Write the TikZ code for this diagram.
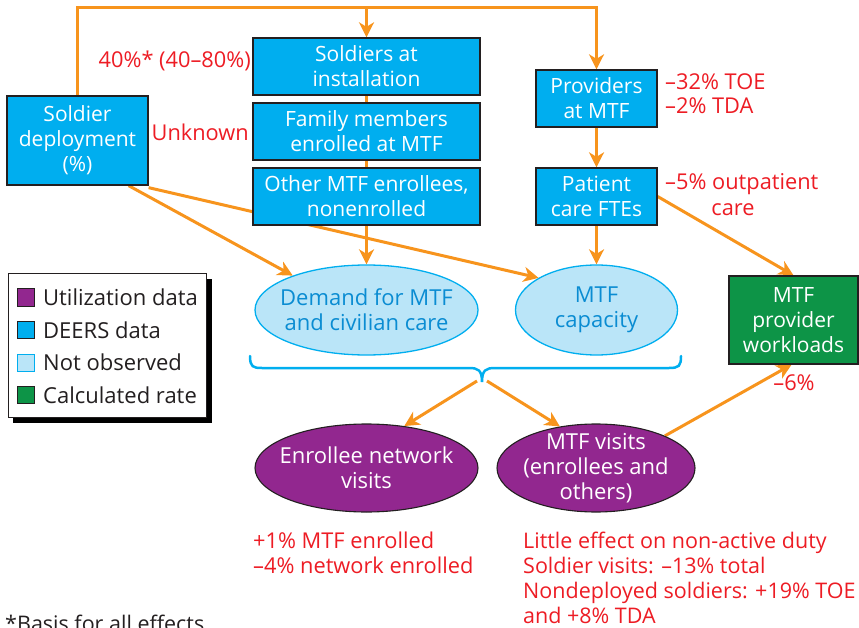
\documentclass[tikz,border=0pt]{standalone}
\usepackage{fontspec}
\setmainfont{Open Sans}
\usetikzlibrary{arrows.meta,shapes.geometric,calc}
\definecolor{dblue}{HTML}{00AEEF}
\definecolor{lblue}{HTML}{BAE5F8}
\definecolor{tblue}{HTML}{0A8CD2}
\definecolor{purp}{HTML}{92278F}
\definecolor{grn}{HTML}{0D9447}
\definecolor{orng}{HTML}{F7941D}
\definecolor{redt}{HTML}{ED1C24}
\definecolor{dark}{HTML}{231F20}
\pgfdeclarelayer{bg}
\pgfsetlayers{bg,main}
\tikzset{
  box/.style={draw=dark, line width=1.3pt, fill=dblue, text=white, align=center, inner sep=0pt},
  gbox/.style={box, fill=grn},
  lell/.style={ellipse, draw=dblue, line width=1.3pt, fill=lblue, inner sep=0pt},
  pell/.style={ellipse, draw=dark, line width=1.1pt, fill=purp, inner sep=0pt},
  etext/.style={align=center, inner sep=0pt, font=\fontsize{22}{25}\selectfont},
  conn/.style={draw=orng, line width=3pt},
  arr/.style={conn, -{Stealth[length=15pt,width=15pt,inset=4.5pt]}},
  redlab/.style={text=redt, inner sep=0pt, font=\fontsize{21.8}{25}\selectfont},
  legsq/.style={draw=dark, line width=1pt, minimum size=17pt, inner sep=0pt},
  legtx/.style={text=dark, anchor=west, inner sep=0pt, font=\fontsize{22}{25}\selectfont}
}
\begin{document}
\begin{tikzpicture}[x=1pt,y=-1pt,font=\fontsize{21}{25}\selectfont]
\useasboundingbox (0,0) rectangle (859,628);

% boxes
\node[box, minimum width=141pt, minimum height=89pt] (dep) at (77.5,140.5) {Soldier\\deployment\\(\%)};
\node[box, minimum width=227pt, minimum height=57pt] (sold) at (366.5,66.5) {Soldiers at\\installation};
\node[box, minimum width=227pt, minimum height=57pt] (fam) at (366.5,131.5) {Family members\\enrolled at MTF};
\node[box, minimum width=227pt, minimum height=57pt] (oth) at (366.5,196.5) {Other MTF enrollees,\\nonenrolled};
\node[box, minimum width=121pt, minimum height=57pt] (prov) at (596.5,98.5) {Providers\\at MTF};
\node[box, minimum width=121pt, minimum height=57pt] (pat) at (596.5,196.5) {Patient\\care FTEs};
\node[gbox, minimum width=129pt, minimum height=88pt] (work) at (793.5,320) {MTF\\provider\\workloads};

% ellipses
\node[lell, minimum width=223pt, minimum height=90pt] (dem) at (366.5,310) {};
\node[etext, text=tblue] (demt) at (dem.center) {Demand for MTF\\and civilian care};
\node[lell, minimum width=162pt, minimum height=90pt] (cap) at (596.5,310) {};
\node[etext, text=tblue] (capt) at (cap.center) {MTF\\capacity};
\node[pell, minimum width=223pt, minimum height=88pt] (enr) at (366.5,468) {};
\node[etext, text=white] (enrt) at (enr.center) {Enrollee network\\visits};
\node[pell, minimum width=198pt, minimum height=88pt] (vis) at (596,468) {};
\node[etext, text=white] (vist) at (vis.center) {MTF visits\\(enrollees and\\others)};

% brace
\coordinate (bt) at (482,382);
\draw[dblue, line width=2.5pt, line cap=round]
  (250,356) .. controls (250,367) and (253,368) .. (262,368) -- (469,368)
  .. controls (478,368) and (482,370) .. (bt)
  .. controls (482,370) and (486,368) .. (495,368) -- (669,368)
  .. controls (679,368) and (681,366) .. (681,356);

% connectors
\begin{pgfonlayer}{bg}
\coordinate (tl) at (77.5,8);
\draw[arr, line join=miter] (dep.north) -- (tl) -| (prov.north);
\draw[arr] (sold.north |- tl) -- (sold.north);
\draw[conn] (sold.south) -- (fam.north);
\draw[conn] (fam.south) -- (oth.north);
\draw[arr] (oth.south) -- (dem.north);
\draw[arr] (prov.south) -- (pat.north);
\draw[arr] (pat.south) -- (cap.north);
\draw[arr] ([xshift=-20pt]dep.south east) -- (dem.155);
\draw[arr] ([yshift=-2pt]dep.south east) -- (cap.151);
\draw[arr] (pat.east) -- (work.north);
\draw[arr] ([shift={(-5pt,1pt)}]bt) -- (enr.48);
\draw[arr] ([shift={(5pt,1pt)}]bt) -- (vis.131);
\draw[arr] (vis.25) -- ([xshift=-2pt]work.south);
\end{pgfonlayer}

% red labels
\node[redlab, anchor=east] (l40) at (251,61) {40\%* (40–80\%)};
\node[redlab, anchor=east] (lunk) at (249,132) {Unknown};
\node[redlab, anchor=west] (l32) at (665,82) {–32\% TOE};
\node[redlab, anchor=west] (l2) at (665,106) {–2\% TDA};
\node[redlab, anchor=west] (l5) at (665,184) {–5\% outpatient};
\node[redlab] (lcare) at (733,210) {care};
\node[redlab] (l6) at (794,383) {–6\%};
\node[redlab, anchor=north west, align=left] (lenr) at (253,532) {+1\% MTF enrolled\\–4\% network enrolled};
\node[redlab, anchor=north west, align=left, font=\fontsize{21.5}{25}\selectfont] (lvis) at (523,532) {Little effect on non-active duty\\Soldier visits: –13\% total\\Nondeployed soldiers: +19\% TOE\\and +8\% TDA};

% legend
\fill[black] (13,279) rectangle (212,423);
\draw[dark, line width=1pt, fill=white] (8,274) rectangle (206,417);
\node[legsq, fill=purp] (sq1) at (25.5,297.5) {};
\node[legtx] (tx1) at (43,297.5) {Utilization data};
\node[legsq, fill=dblue] (sq2) at (25.5,330) {};
\node[legtx] (tx2) at (43,330) {DEERS data};
\node[legsq, fill=lblue, draw=dblue] (sq3) at (25.5,362.5) {};
\node[legtx] (tx3) at (43,362.5) {Not observed};
\node[legsq, fill=grn] (sq4) at (25.5,395) {};
\node[legtx] (tx4) at (43,395) {Calculated rate};

% footnote (cut at the lower edge, as in the reference)
\node[anchor=base west, inner sep=0pt, text=dark, font=\fontsize{21.5}{25}\selectfont] (foot) at (5,631) {*Basis for all effects};
\end{tikzpicture}
\end{document}
